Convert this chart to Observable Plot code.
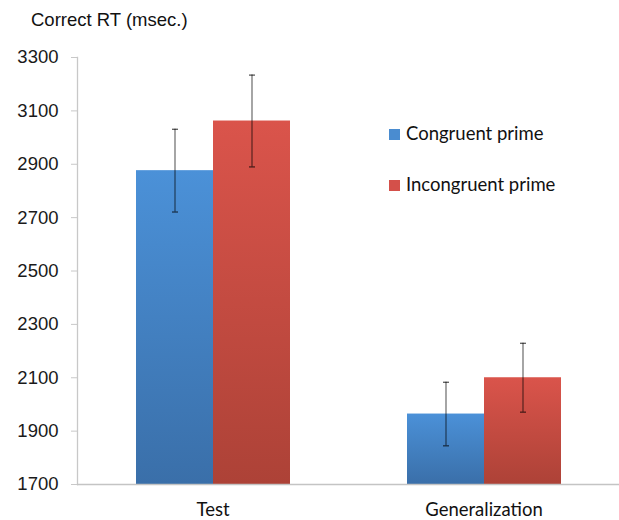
<!DOCTYPE html>
<html>
<head>
<meta charset="utf-8">
<script src="https://cdn.jsdelivr.net/npm/d3@7"></script>
<script src="https://cdn.jsdelivr.net/npm/@observablehq/plot@0.6"></script>
<style>
  body { margin: 0; background: #fff; }
  #wrap { position: relative; width: 619px; height: 520px; overflow: hidden; }
  #wrap svg { position: absolute; left: 0; top: 0; overflow: visible; }
  .title { position: absolute; left: 31px; top: 11px; font: 18.5px "Liberation Sans", Arial, sans-serif; line-height: 18.5px; color: #111; white-space: nowrap; }
  .leg { position: absolute; left: 389px; font: 18.5px Lato, sans-serif; line-height: 18.5px; color: #111; white-space: nowrap; }
  .leg i { position: absolute; left: 0; width: 11px; height: 11px; }
  .leg span { position: absolute; left: 17px; top: 0; }
</style>
</head>
<body>
<div id="wrap">
  <div class="title">Correct RT (msec.)</div>
</div>
<script>
const categories = ["Test", "Generalization"];
const seriesNames = ["Congruent prime", "Incongruent prime"];
const congruent = [2876, 1964];
const incongruent = [3062, 2100];
const congruentErr = [155, 119];
const incongruentErr = [172, 129];
const yTicks = [1700, 1900, 2100, 2300, 2500, 2700, 2900, 3100, 3300];

const rows = [];
categories.forEach((c, i) => {
  rows.push({cat: c, series: seriesNames[0], value: congruent[i], lo: congruent[i] - congruentErr[i], hi: congruent[i] + congruentErr[i]});
  rows.push({cat: c, series: seriesNames[1], value: incongruent[i], lo: incongruent[i] - incongruentErr[i], hi: incongruent[i] + incongruentErr[i]});
});

const capSymbol = {draw(ctx, size) { ctx.moveTo(-3, 0); ctx.lineTo(3, 0); }};

const chart = Plot.plot({
  width: 619,
  height: 520,
  marginTop: 57,
  marginBottom: 36,
  marginLeft: 77,
  marginRight: 0,
  facet: {data: rows, x: "cat"},
  fx: {domain: categories, paddingInner: 0, paddingOuter: 0, label: null},
  x: {domain: seriesNames, paddingInner: 0, paddingOuter: 0.75, axis: null},
  y: {domain: [1700, 3300], label: null},
  color: {domain: seriesNames, range: ["url(#gBlue)", "url(#gRed)"]},
  marks: [
    Plot.axisY({ticks: yTicks, tickFormat: d => String(d), tickSize: 6, tickPadding: 13, label: null,
      fontSize: 18.5, fontFamily: "Liberation Sans, Arial, sans-serif", stroke: "#c8c8c8", fill: "#1a1a1a", textStroke: "none"}),
    Plot.frame({anchor: "left", facet: "super", stroke: "#c8c8c8", strokeWidth: 1.3}),
    Plot.axisFx({tickSize: 0, tickPadding: 18, label: null, fontSize: 18.5, fontFamily: "Lato, sans-serif", fill: "#111", anchor: "bottom"}),
    Plot.barY(rows, {x: "series", y1: 1700, y2: "value", fill: "series"}),
    Plot.ruleY([1700], {stroke: "#c4c4c4", strokeWidth: 1.3}),
    Plot.ruleX(rows, {x: "series", y1: "lo", y2: "hi", stroke: "#000", strokeOpacity: 0.5, strokeWidth: 1.4}),
    Plot.dot(rows, {x: "series", y: "lo", symbol: capSymbol, r: 3, stroke: "#000", strokeOpacity: 0.6, strokeWidth: 1.4, fill: "none"}),
    Plot.dot(rows, {x: "series", y: "hi", symbol: capSymbol, r: 3, stroke: "#000", strokeOpacity: 0.6, strokeWidth: 1.4, fill: "none"})
  ]
});

const ns = "http://www.w3.org/2000/svg";
const defs = document.createElementNS(ns, "defs");
defs.innerHTML = `
  <linearGradient id="gBlue" x1="0" y1="0" x2="0" y2="1">
    <stop offset="0" stop-color="#4b91d8"/><stop offset="1" stop-color="#3a6fa9"/>
  </linearGradient>
  <linearGradient id="gRed" x1="0" y1="0" x2="0" y2="1">
    <stop offset="0" stop-color="#da544b"/><stop offset="1" stop-color="#ad4237"/>
  </linearGradient>`;
chart.insertBefore(defs, chart.firstChild);

const wrap = document.getElementById("wrap");
wrap.appendChild(chart);

// legend
const legColors = ["#4a8cd0", "#d4504a"];
const legTops = [124, 175];
seriesNames.forEach((s, i) => {
  const d = document.createElement("div");
  d.className = "leg";
  d.style.top = legTops[i] + "px";
  d.innerHTML = `<i style="background:${legColors[i]};top:5px"></i><span>${s}</span>`;
  wrap.appendChild(d);
});
</script>
</body>
</html>
